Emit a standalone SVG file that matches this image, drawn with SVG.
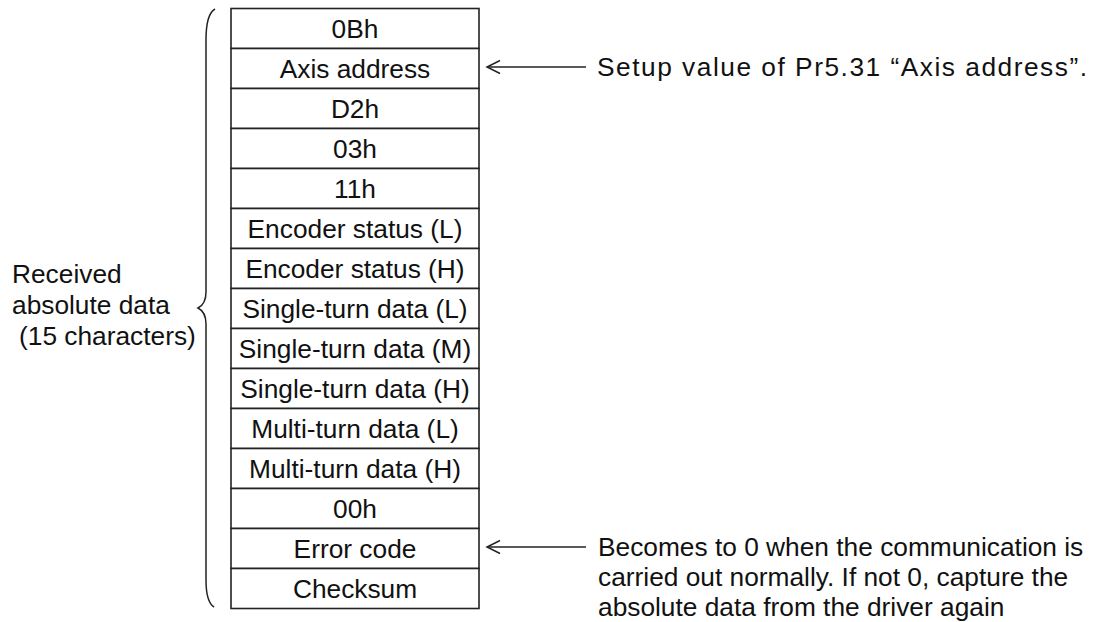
<svg xmlns="http://www.w3.org/2000/svg" width="1106" height="622" viewBox="0 0 1106 622">
<style>
text{font-family:"Liberation Sans",Arial,sans-serif;font-size:26.3px;fill:#111}
.c{text-anchor:middle}
.cell{fill:#fff;stroke:#222;stroke-width:1.6}
.ln{fill:none;stroke:#222;stroke-width:1.5}
</style>
<defs>
<marker id="ah" markerWidth="16" markerHeight="16" refX="14" refY="8" orient="auto" markerUnits="userSpaceOnUse">
<path d="M1,1.5 L14,8 L1,14.5" fill="none" stroke="#222" stroke-width="1.5"/>
</marker>
</defs>
<rect width="1106" height="622" fill="#fff"/>
<g id="table">
<g id="r1"><rect class="cell" x="231" y="8.5" width="248" height="40"/><text class="c" x="355" y="37.5">0Bh</text></g>
<g id="r2"><rect class="cell" x="231" y="48.5" width="248" height="40"/><text class="c" x="355" y="77.5">Axis address</text></g>
<g id="r3"><rect class="cell" x="231" y="88.5" width="248" height="40"/><text class="c" x="355" y="117.5">D2h</text></g>
<g id="r4"><rect class="cell" x="231" y="128.5" width="248" height="40"/><text class="c" x="355" y="157.5">03h</text></g>
<g id="r5"><rect class="cell" x="231" y="168.5" width="248" height="40"/><text class="c" x="355" y="197.5">11h</text></g>
<g id="r6"><rect class="cell" x="231" y="208.5" width="248" height="40"/><text class="c" x="355" y="237.5">Encoder status (L)</text></g>
<g id="r7"><rect class="cell" x="231" y="248.5" width="248" height="40"/><text class="c" x="355" y="277.5">Encoder status (H)</text></g>
<g id="r8"><rect class="cell" x="231" y="288.5" width="248" height="40"/><text class="c" x="355" y="317.5">Single-turn data (L)</text></g>
<g id="r9"><rect class="cell" x="231" y="328.5" width="248" height="40"/><text class="c" x="355" y="357.5">Single-turn data (M)</text></g>
<g id="r10"><rect class="cell" x="231" y="368.5" width="248" height="40"/><text class="c" x="355" y="397.5">Single-turn data (H)</text></g>
<g id="r11"><rect class="cell" x="231" y="408.5" width="248" height="40"/><text class="c" x="355" y="437.5">Multi-turn data (L)</text></g>
<g id="r12"><rect class="cell" x="231" y="448.5" width="248" height="40"/><text class="c" x="355" y="477.5">Multi-turn data (H)</text></g>
<g id="r13"><rect class="cell" x="231" y="488.5" width="248" height="40"/><text class="c" x="355" y="517.5">00h</text></g>
<g id="r14"><rect class="cell" x="231" y="528.5" width="248" height="40"/><text class="c" x="355" y="557.5">Error code</text></g>
<g id="r15"><rect class="cell" x="231" y="568.5" width="248" height="40"/><text class="c" x="355" y="597.5">Checksum</text></g>
</g>
<g id="brace">
<path class="ln" d="M215,9 Q206,14 206,40 L206,292 Q206,304 198,308 Q206,312 206,324 L206,580 Q206,602 214,607"/>
<text x="12" y="283">Received</text>
<text x="12" y="314">absolute data</text>
<text x="19" y="345">(15 characters)</text>
</g>
<g id="connectors">
<line class="ln" x1="586" y1="67" x2="487" y2="67" marker-end="url(#ah)"/>
<line class="ln" x1="586" y1="547" x2="487" y2="547" marker-end="url(#ah)"/>
</g>
<g id="note1"><text x="597" y="76" textLength="490" lengthAdjust="spacing">Setup value of Pr5.31 “Axis address”.</text></g>
<g id="note2">
<text x="598" y="556">Becomes to 0 when the communication is</text>
<text x="598" y="586">carried out normally. If not 0, capture the</text>
<text x="598" y="616">absolute data from the driver again</text>
</g>
</svg>
